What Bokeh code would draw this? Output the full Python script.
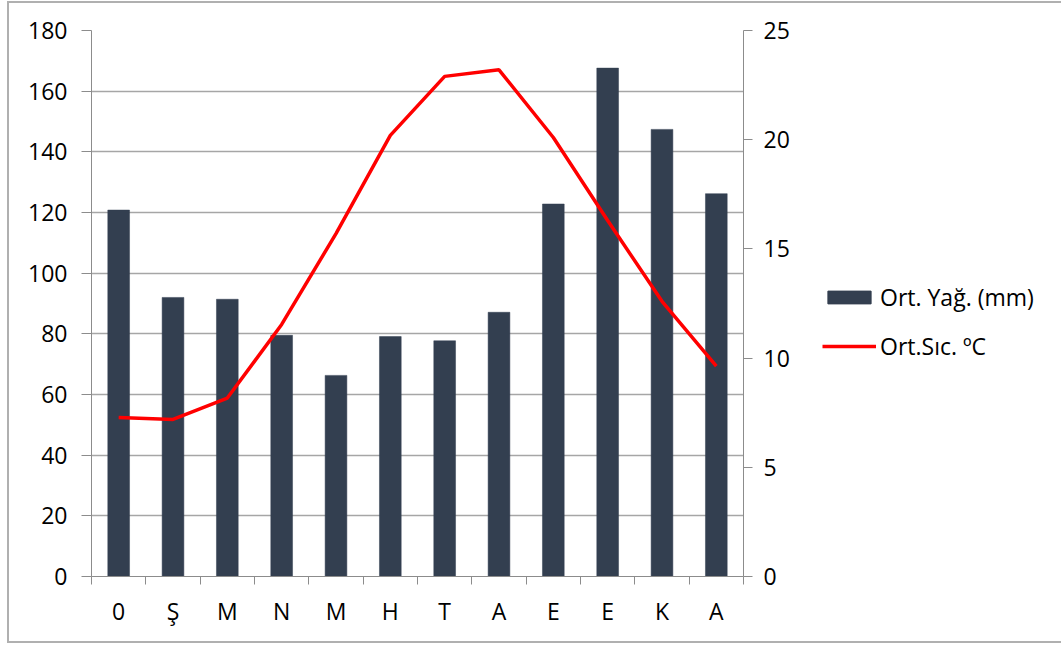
from bokeh.plotting import figure
from bokeh.models import (Range1d, LinearAxis, FixedTicker, Legend, LegendItem, ColumnDataSource)
from bokeh.layouts import row
from bokeh.embed import file_html
from bokeh.resources import INLINE

months = ["0", "Ş", "M", "N", "M", "H", "T", "A", "E", "E", "K", "A"]
rain = [120.8, 92.0, 91.4, 79.5, 66.3, 79.1, 77.7, 87.1, 122.8, 167.6, 147.4, 126.2]
temp = [7.28, 7.19, 8.17, 11.54, 15.7, 20.2, 22.9, 23.2, 20.1, 16.3, 12.6, 9.63]
left_ticks = [0, 20, 40, 60, 80, 100, 120, 140, 160, 180]
right_ticks = [0, 5, 10, 15, 20, 25]
rain_label = "Ort. Yağ. (mm)"
temp_label = "Ort.Sıc. ºC"

FONT = "Open Sans"
FS = "23px"
AXIS_COL = "#8c8c8c"
GRID_COL = "#a6a6a6"
BAR_COL = "#333f50"
LINE_COL = "#ff0000"

xpos = [i + 0.5 for i in range(len(months))]

H = 638
p = figure(width=791, height=H, output_backend="svg", toolbar_location=None,
           x_range=Range1d(0, 12), y_range=Range1d(0, 180),
           min_border_left=82, min_border_right=57, min_border_top=27, min_border_bottom=65)
p.extra_y_ranges = {"t": Range1d(0, 25)}
p.outline_line_color = None

src = ColumnDataSource(dict(x=xpos, rain=rain, temp=temp))
bars = p.vbar(x="x", top="rain", width=0.4, bottom=0, source=src,
              fill_color=BAR_COL, line_color=BAR_COL, line_width=0.5)
line = p.line(x="x", y="temp", source=src, y_range_name="t", line_color=LINE_COL, line_width=3.5)

# x axis
xa = p.xaxis[0]
xa.ticker = FixedTicker(ticks=xpos, minor_ticks=list(range(13)))
xa.major_label_overrides = {x: m for x, m in zip(xpos, months)}
xa.major_tick_out = 0
xa.major_tick_in = 0
xa.minor_tick_out = 8
xa.minor_tick_in = 0
xa.minor_tick_line_color = AXIS_COL
xa.axis_line_color = AXIS_COL
xa.major_label_standoff = 10
xa.major_label_text_font = FONT
xa.major_label_text_font_size = FS
xa.major_label_text_color = "black"

# left axis
ya = p.yaxis[0]
ya.ticker = FixedTicker(ticks=left_ticks)
ya.major_tick_out = 10
ya.major_tick_in = 0
ya.minor_tick_line_color = None
ya.major_tick_line_color = AXIS_COL
ya.axis_line_color = AXIS_COL
ya.major_label_standoff = 14
ya.major_label_text_font = FONT
ya.major_label_text_font_size = FS
ya.major_label_text_color = "black"

# right axis
ra = LinearAxis(y_range_name="t", ticker=FixedTicker(ticks=right_ticks))
ra.major_tick_out = 9
ra.major_tick_in = 0
ra.minor_tick_line_color = None
ra.major_tick_line_color = AXIS_COL
ra.axis_line_color = AXIS_COL
ra.major_label_standoff = 11
ra.major_label_text_font = FONT
ra.major_label_text_font_size = FS
ra.major_label_text_color = "black"
p.add_layout(ra, "right")

p.xgrid.grid_line_color = None
p.ygrid.grid_line_color = GRID_COL
p.ygrid.grid_line_width = 1.5

# legend panel (its renderers use the same data but lie outside its empty view)
p2 = figure(width=261, height=H, output_backend="svg", toolbar_location=None,
            x_range=Range1d(-100, -99), y_range=Range1d(-100, -99), min_border=0,
            x_axis_type=None, y_axis_type=None)
p2.outline_line_color = None
p2.xgrid.grid_line_color = None
p2.ygrid.grid_line_color = None
lb = p2.vbar(x="x", top="rain", width=0.4, source=src, fill_color=BAR_COL, line_color=BAR_COL)
ll = p2.line(x="x", y="temp", source=src, line_color=LINE_COL, line_width=3.5)

legend = Legend(items=[LegendItem(label=rain_label, renderers=[lb]),
                       LegendItem(label=temp_label, renderers=[ll])],
                location=(22, 214))
legend.border_line_color = None
legend.background_fill_alpha = 0
legend.padding = 0
legend.margin = 0
legend.glyph_width = 54
legend.glyph_height = 16
legend.label_height = 20
legend.spacing = 17
legend.label_standoff = 4
legend.label_text_font = FONT
legend.label_text_font_size = FS
legend.label_text_color = "black"
p2.add_layout(legend, "center")

layout = row(p, p2, spacing=0)
layout.styles = {"margin-left": "7px", "margin-top": "1px",
                 "border": "2px solid #b0b0b0", "border-right": "none"}

open("out.html", "w").write(file_html(layout, INLINE))
